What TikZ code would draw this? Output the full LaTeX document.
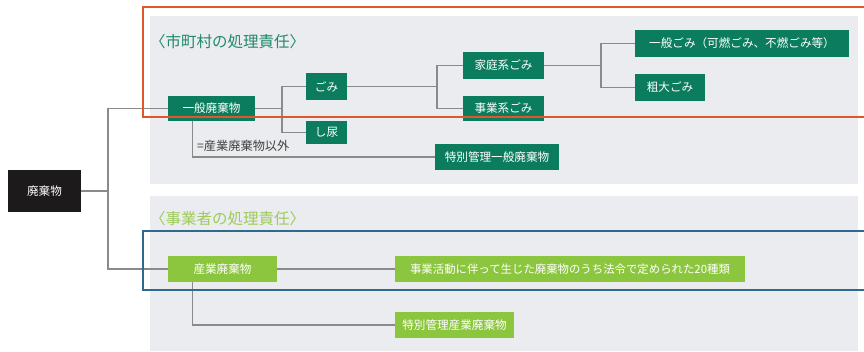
\documentclass[tikz,border=0pt]{standalone}
\usepackage{fontspec}
\setmainfont{Noto Sans CJK JP}
\usetikzlibrary{calc}
\definecolor{dkgreen}{HTML}{0B7D5E}
\definecolor{ltgreen}{HTML}{8CC63F}
\definecolor{panel}{HTML}{EBECEF}
\definecolor{orangeline}{HTML}{E2562B}
\definecolor{blueline}{HTML}{2F6A8E}
\definecolor{conn}{HTML}{8A8A8A}
\definecolor{blackbox}{HTML}{1C1A1A}
\definecolor{titlegreen}{HTML}{1F8A68}
\definecolor{titlelt}{HTML}{9CCB58}
\begin{document}
\begin{tikzpicture}[x=1pt,y=-1pt,
  box/.style={inner sep=0pt,text=white,font=\fontsize{11.6}{13}\selectfont,anchor=center},
  dk/.style={box,fill=dkgreen},
  lt/.style={box,fill=ltgreen},
  con/.style={draw=conn,line width=1.2pt}]
\useasboundingbox (0,0) rectangle (864,351);
\fill[white] (0,0) rectangle (864,351);
% panels
\fill[panel] (150,16) rectangle (858,184);
\fill[panel] (150,196) rectangle (858,351);
% titles
\node[anchor=west,text=titlegreen,font=\fontsize{15.5}{18}\selectfont,inner sep=0pt] (t1) at (150,42) {〈市町村の処理責任〉};
\node[anchor=west,text=titlelt,font=\fontsize{15.5}{18}\selectfont,inner sep=0pt] (t2) at (150,219) {〈事業者の処理責任〉};
% nodes
\node[box,fill=blackbox,minimum width=73pt,minimum height=42pt] (haiki) at (44.5,191) {廃棄物};
\node[dk,minimum width=87pt,minimum height=25pt] (ippan) at (211.5,108.5) {一般廃棄物};
\node[dk,minimum width=41pt,minimum height=27pt] (gomi) at (326.5,86.5) {ごみ};
\node[dk,minimum width=41pt,minimum height=23pt] (shinyo) at (326.5,132.5) {し尿};
\node[dk,minimum width=81pt,minimum height=27pt] (katei) at (503.5,65.5) {家庭系ごみ};
\node[dk,minimum width=81pt,minimum height=25pt] (jigyo) at (503.5,108.5) {事業系ごみ};
\node[dk,minimum width=214pt,minimum height=27pt] (ippangomi) at (742,43.5) {一般ごみ（可燃ごみ、不燃ごみ等）};
\node[dk,minimum width=70pt,minimum height=27pt] (sodai) at (670,87.5) {粗大ごみ};
\node[dk,minimum width=124pt,minimum height=26pt] (tokuippan) at (497,157) {特別管理一般廃棄物};
\node[lt,minimum width=109pt,minimum height=26pt] (sangyo) at (222.5,269) {産業廃棄物};
\node[lt,minimum width=350pt,minimum height=26pt,font=\fontsize{11.4}{13}\selectfont] (katsudo) at (570,269) {事業活動に伴って生じた廃棄物のうち法令で定められた20種類};
\node[lt,minimum width=119pt,minimum height=26pt] (tokusan) at (454.5,325) {特別管理産業廃棄物};
\node[anchor=west,inner sep=0pt,text=black!75,font=\fontsize{12.2}{14}\selectfont] (igai) at (197,146) {=産業廃棄物以外};
% junctions
\coordinate (j1) at (108,191);
\coordinate (j2) at (282,108.5);
\coordinate (j3) at (437,86.5);
\coordinate (j4) at (601,65.5);
% connectors
\draw[con] (haiki.east) -- (j1);
\draw[con] (ippan.west) -| (j1) |- (sangyo.west);
\draw[con] (ippan.east) -- (j2);
\draw[con] (gomi.west) -| (j2) |- (shinyo.west);
\draw[con] (gomi.east) -- (j3);
\draw[con] (katei.west) -| (j3) |- (jigyo.west);
\draw[con] (katei.east) -- (j4);
\draw[con] (ippangomi.west) -| (j4) |- (sodai.west);
\draw[con] ($(ippan.south west)+(25,0)$) |- (tokuippan.west);
\draw[con] (sangyo.east) -- (katsudo.west);
\draw[con] ($(sangyo.south west)+(25,0)$) |- (tokusan.west);
% highlight frames
\draw[orangeline,line width=2pt] (143,7) rectangle (880,117);
\draw[blueline,line width=2pt] (143,231) rectangle (880,290);
\end{tikzpicture}
\end{document}
